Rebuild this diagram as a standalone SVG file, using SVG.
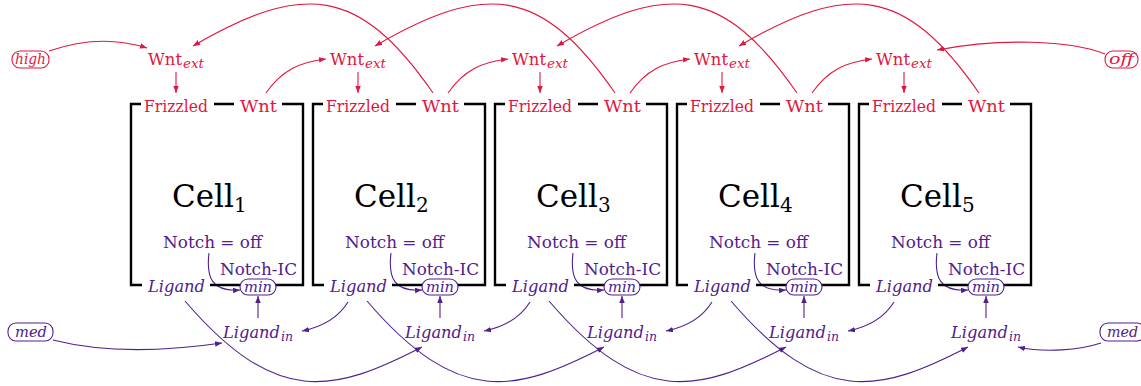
<svg xmlns="http://www.w3.org/2000/svg" width="1141" height="386" viewBox="0 0 1141 386" font-family="'DejaVu Serif', serif">
<style>
.r{fill:#E2163E;}
.p{fill:#50208E;}
.it{font-style:italic;}
.lab{font-size:17px;}
.sub{font-size:12px;}
.cell{font-size:31px;fill:#000;}
.cs{font-size:20px;fill:#000;}
.box{fill:none;stroke:#000;stroke-width:2.4;}
.rc{fill:none;stroke:#E2163E;stroke-width:1.1;marker-end:url(#ar);}
.pc{fill:none;stroke:#50208E;stroke-width:1.1;marker-end:url(#ap);}
.rb{fill:#fff;stroke:#E2163E;stroke-width:1.1;}
.pb{fill:#fff;stroke:#50208E;stroke-width:1.1;}
</style>
<defs>
<marker id="ar" markerUnits="userSpaceOnUse" markerWidth="8" markerHeight="6" refX="7" refY="2.75" orient="auto"><path d="M0,0 L7,2.75 L0,5.5 z" fill="#E2163E"/></marker>
<marker id="ap" markerUnits="userSpaceOnUse" markerWidth="8" markerHeight="6" refX="7" refY="2.75" orient="auto"><path d="M0,0 L7,2.75 L0,5.5 z" fill="#50208E"/></marker>
</defs>
<rect width="1141" height="386" fill="#fff"/>

<g id="connectors">
<path class="rc" d="M49,51 Q100,33 147,48"/>
<path class="rc" d="M1105,54 C1070,40 1000,38 937,50"/>
<path class="rc" d="M176,72 V93"/>
<path class="rc" d="M358,72 V93"/>
<path class="rc" d="M540,72 V93"/>
<path class="rc" d="M722,72 V93"/>
<path class="rc" d="M904,72 V93"/>
<path class="rc" d="M266,93 C282,70 300,62 326,59"/>
<path class="rc" d="M448,93 C464,70 482,62 508,59"/>
<path class="rc" d="M630,93 C646,70 664,62 690,59"/>
<path class="rc" d="M812,93 C828,70 846,62 872,59"/>
<path class="rc" d="M433,93 C359,-14 303,-18 193,46"/>
<path class="rc" d="M615,93 C541,-14 485,-18 375,46"/>
<path class="rc" d="M797,93 C723,-14 667,-18 557,46"/>
<path class="rc" d="M979,93 C905,-14 849,-18 739,46"/>

<path class="pc" d="M209,253 C206,278 212,292 240,290"/>
<path class="pc" d="M391,253 C388,278 394,292 422,290"/>
<path class="pc" d="M573,253 C570,278 576,292 604,290"/>
<path class="pc" d="M755,253 C752,278 758,292 786,290"/>
<path class="pc" d="M937,253 C934,278 940,292 968,290"/>
<path class="pc" d="M258,318 V296"/>
<path class="pc" d="M440,318 V296"/>
<path class="pc" d="M622,318 V296"/>
<path class="pc" d="M804,318 V296"/>
<path class="pc" d="M986,318 V296"/>
<path class="pc" d="M53,340 C100,352 160,352 222,343"/>
<path class="pc" d="M1101,343 C1080,350 1045,353 1018,347"/>
<path class="pc" d="M185,301 C276,407 333,393 422,347"/>
<path class="pc" d="M367,301 C458,407 515,393 604,347"/>
<path class="pc" d="M549,301 C640,407 697,393 786,347"/>
<path class="pc" d="M731,301 C822,407 879,393 968,347"/>
<path class="pc" d="M348,302 C338,318 322,327 302,331"/>
<path class="pc" d="M530,302 C520,318 504,327 484,331"/>
<path class="pc" d="M712,302 C702,318 686,327 666,331"/>
<path class="pc" d="M894,302 C884,318 868,327 848,331"/>
</g>

<g id="high"><rect class="rb" x="12" y="51" width="37" height="17" rx="8"/><text class="r it" x="15" y="64" font-size="15" textLength="31" lengthAdjust="spacingAndGlyphs">high</text></g>
<g id="off"><rect class="rb" x="1105" y="51" width="33" height="17" rx="8"/><text class="r it" x="1109" y="64" font-size="15" textLength="25" lengthAdjust="spacingAndGlyphs">off</text></g>
<g id="med-left"><rect class="pb" x="8" y="323" width="45" height="18" rx="8"/><text class="p it" x="15" y="337" font-size="15" textLength="32" lengthAdjust="spacingAndGlyphs">med</text></g>
<g id="med-right"><rect class="pb" x="1100" y="323" width="45" height="18" rx="8"/><text class="p it" x="1107" y="337" font-size="15" textLength="31" lengthAdjust="spacingAndGlyphs">med</text></g>

<g id="wntext1"><text class="r lab" x="148" y="65" textLength="34" lengthAdjust="spacingAndGlyphs">Wnt</text><text class="r it sub" x="183" y="68" textLength="21" lengthAdjust="spacingAndGlyphs">ext</text></g>
<g id="wntext2" transform="translate(182,0)"><text class="r lab" x="148" y="65" textLength="34" lengthAdjust="spacingAndGlyphs">Wnt</text><text class="r it sub" x="183" y="68" textLength="21" lengthAdjust="spacingAndGlyphs">ext</text></g>
<g id="wntext3" transform="translate(364,0)"><text class="r lab" x="148" y="65" textLength="34" lengthAdjust="spacingAndGlyphs">Wnt</text><text class="r it sub" x="183" y="68" textLength="21" lengthAdjust="spacingAndGlyphs">ext</text></g>
<g id="wntext4" transform="translate(546,0)"><text class="r lab" x="148" y="65" textLength="34" lengthAdjust="spacingAndGlyphs">Wnt</text><text class="r it sub" x="183" y="68" textLength="21" lengthAdjust="spacingAndGlyphs">ext</text></g>
<g id="wntext5" transform="translate(728,0)"><text class="r lab" x="148" y="65" textLength="34" lengthAdjust="spacingAndGlyphs">Wnt</text><text class="r it sub" x="183" y="68" textLength="21" lengthAdjust="spacingAndGlyphs">ext</text></g>

<g id="cell1">
<path class="box" d="M141,104 H131 V285 H142 M214,104 H234 M282,104 H303 V285 H210"/>
<text class="r lab" x="144" y="112" textLength="64" lengthAdjust="spacingAndGlyphs">Frizzled</text>
<text class="r lab" x="240" y="112" textLength="37" lengthAdjust="spacingAndGlyphs">Wnt</text>
<text class="cell" x="172" y="207">Cell</text><text class="cs" x="234" y="212">1</text>
<text class="p lab" x="163" y="248" textLength="99" lengthAdjust="spacingAndGlyphs">Notch = off</text>
<text class="p lab" x="220" y="275" textLength="77" lengthAdjust="spacingAndGlyphs">Notch-IC</text>
<text class="p lab it" x="148" y="292" textLength="57" lengthAdjust="spacingAndGlyphs">Ligand</text>
<rect class="pb" x="240" y="279" width="36" height="16" rx="8"/><text class="p it" x="244" y="291.5" font-size="15" textLength="28" lengthAdjust="spacingAndGlyphs">min</text>
</g>
<g id="cell2" transform="translate(182,0)">
<path class="box" d="M141,104 H131 V285 H142 M214,104 H234 M282,104 H303 V285 H210"/>
<text class="r lab" x="144" y="112" textLength="64" lengthAdjust="spacingAndGlyphs">Frizzled</text>
<text class="r lab" x="240" y="112" textLength="37" lengthAdjust="spacingAndGlyphs">Wnt</text>
<text class="cell" x="172" y="207">Cell</text><text class="cs" x="234" y="212">2</text>
<text class="p lab" x="163" y="248" textLength="99" lengthAdjust="spacingAndGlyphs">Notch = off</text>
<text class="p lab" x="220" y="275" textLength="77" lengthAdjust="spacingAndGlyphs">Notch-IC</text>
<text class="p lab it" x="148" y="292" textLength="57" lengthAdjust="spacingAndGlyphs">Ligand</text>
<rect class="pb" x="240" y="279" width="36" height="16" rx="8"/><text class="p it" x="244" y="291.5" font-size="15" textLength="28" lengthAdjust="spacingAndGlyphs">min</text>
</g>
<g id="cell3" transform="translate(364,0)">
<path class="box" d="M141,104 H131 V285 H142 M214,104 H234 M282,104 H303 V285 H210"/>
<text class="r lab" x="144" y="112" textLength="64" lengthAdjust="spacingAndGlyphs">Frizzled</text>
<text class="r lab" x="240" y="112" textLength="37" lengthAdjust="spacingAndGlyphs">Wnt</text>
<text class="cell" x="172" y="207">Cell</text><text class="cs" x="234" y="212">3</text>
<text class="p lab" x="163" y="248" textLength="99" lengthAdjust="spacingAndGlyphs">Notch = off</text>
<text class="p lab" x="220" y="275" textLength="77" lengthAdjust="spacingAndGlyphs">Notch-IC</text>
<text class="p lab it" x="148" y="292" textLength="57" lengthAdjust="spacingAndGlyphs">Ligand</text>
<rect class="pb" x="240" y="279" width="36" height="16" rx="8"/><text class="p it" x="244" y="291.5" font-size="15" textLength="28" lengthAdjust="spacingAndGlyphs">min</text>
</g>
<g id="cell4" transform="translate(546,0)">
<path class="box" d="M141,104 H131 V285 H142 M214,104 H234 M282,104 H303 V285 H210"/>
<text class="r lab" x="144" y="112" textLength="64" lengthAdjust="spacingAndGlyphs">Frizzled</text>
<text class="r lab" x="240" y="112" textLength="37" lengthAdjust="spacingAndGlyphs">Wnt</text>
<text class="cell" x="172" y="207">Cell</text><text class="cs" x="234" y="212">4</text>
<text class="p lab" x="163" y="248" textLength="99" lengthAdjust="spacingAndGlyphs">Notch = off</text>
<text class="p lab" x="220" y="275" textLength="77" lengthAdjust="spacingAndGlyphs">Notch-IC</text>
<text class="p lab it" x="148" y="292" textLength="57" lengthAdjust="spacingAndGlyphs">Ligand</text>
<rect class="pb" x="240" y="279" width="36" height="16" rx="8"/><text class="p it" x="244" y="291.5" font-size="15" textLength="28" lengthAdjust="spacingAndGlyphs">min</text>
</g>
<g id="cell5" transform="translate(728,0)">
<path class="box" d="M141,104 H131 V285 H142 M214,104 H234 M282,104 H303 V285 H210"/>
<text class="r lab" x="144" y="112" textLength="64" lengthAdjust="spacingAndGlyphs">Frizzled</text>
<text class="r lab" x="240" y="112" textLength="37" lengthAdjust="spacingAndGlyphs">Wnt</text>
<text class="cell" x="172" y="207">Cell</text><text class="cs" x="234" y="212">5</text>
<text class="p lab" x="163" y="248" textLength="99" lengthAdjust="spacingAndGlyphs">Notch = off</text>
<text class="p lab" x="220" y="275" textLength="77" lengthAdjust="spacingAndGlyphs">Notch-IC</text>
<text class="p lab it" x="148" y="292" textLength="57" lengthAdjust="spacingAndGlyphs">Ligand</text>
<rect class="pb" x="240" y="279" width="36" height="16" rx="8"/><text class="p it" x="244" y="291.5" font-size="15" textLength="28" lengthAdjust="spacingAndGlyphs">min</text>
</g>

<g id="ligandin1"><text class="p lab it" x="223" y="338" textLength="57" lengthAdjust="spacingAndGlyphs">Ligand</text><text class="p it sub" x="281" y="341" textLength="12" lengthAdjust="spacingAndGlyphs">in</text></g>
<g id="ligandin2" transform="translate(182,0)"><text class="p lab it" x="223" y="338" textLength="57" lengthAdjust="spacingAndGlyphs">Ligand</text><text class="p it sub" x="281" y="341" textLength="12" lengthAdjust="spacingAndGlyphs">in</text></g>
<g id="ligandin3" transform="translate(364,0)"><text class="p lab it" x="223" y="338" textLength="57" lengthAdjust="spacingAndGlyphs">Ligand</text><text class="p it sub" x="281" y="341" textLength="12" lengthAdjust="spacingAndGlyphs">in</text></g>
<g id="ligandin4" transform="translate(546,0)"><text class="p lab it" x="223" y="338" textLength="57" lengthAdjust="spacingAndGlyphs">Ligand</text><text class="p it sub" x="281" y="341" textLength="12" lengthAdjust="spacingAndGlyphs">in</text></g>
<g id="ligandin5" transform="translate(728,0)"><text class="p lab it" x="223" y="338" textLength="57" lengthAdjust="spacingAndGlyphs">Ligand</text><text class="p it sub" x="281" y="341" textLength="12" lengthAdjust="spacingAndGlyphs">in</text></g>
</svg>
